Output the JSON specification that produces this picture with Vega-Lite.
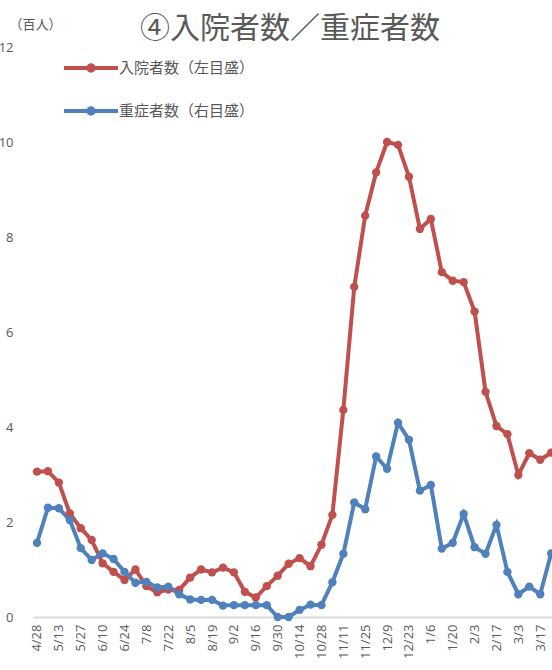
{
  "$schema": "https://vega.github.io/schema/vega-lite/v6.json",
  "autosize": {"type": "none"},
  "width": 519,
  "height": 570,
  "padding": {"left": 33, "top": 47, "right": 0, "bottom": 53},
  "background": "white",
  "config": {
    "view": {"stroke": null},
    "font": "Noto Sans CJK JP"
  },
  "title": {
    "text": "④入院者数／重症者数",
    "anchor": "start",
    "frame": "group",
    "dx": 107,
    "offset": -26,
    "fontSize": 30,
    "fontWeight": "normal",
    "color": "#595959",
    "font": "Noto Sans CJK JP"
  },
  "data": {
    "values": [
      {"d": "4/28", "入院者数（左目盛）": 3.06, "重症者数（右目盛）": 1.56},
      {"d": "5/6", "入院者数（左目盛）": 3.07, "重症者数（右目盛）": 2.3},
      {"d": "5/13", "入院者数（左目盛）": 2.83, "重症者数（右目盛）": 2.29},
      {"d": "5/20", "入院者数（左目盛）": 2.18, "重症者数（右目盛）": 2.04},
      {"d": "5/27", "入院者数（左目盛）": 1.87, "重症者数（右目盛）": 1.45},
      {"d": "6/3", "入院者数（左目盛）": 1.62, "重症者数（右目盛）": 1.2},
      {"d": "6/10", "入院者数（左目盛）": 1.13, "重症者数（右目盛）": 1.34},
      {"d": "6/17", "入院者数（左目盛）": 0.95, "重症者数（右目盛）": 1.22},
      {"d": "6/24", "入院者数（左目盛）": 0.78, "重症者数（右目盛）": 0.95},
      {"d": "7/1", "入院者数（左目盛）": 1.0, "重症者数（右目盛）": 0.72},
      {"d": "7/8", "入院者数（左目盛）": 0.65, "重症者数（右目盛）": 0.74},
      {"d": "7/15", "入院者数（左目盛）": 0.52, "重症者数（右目盛）": 0.62},
      {"d": "7/22", "入院者数（左目盛）": 0.58, "重症者数（右目盛）": 0.64},
      {"d": "7/29", "入院者数（左目盛）": 0.57, "重症者数（右目盛）": 0.48},
      {"d": "8/5", "入院者数（左目盛）": 0.83, "重症者数（右目盛）": 0.37},
      {"d": "8/12", "入院者数（左目盛）": 1.0, "重症者数（右目盛）": 0.36},
      {"d": "8/19", "入院者数（左目盛）": 0.94, "重症者数（右目盛）": 0.36},
      {"d": "8/26", "入院者数（左目盛）": 1.04, "重症者数（右目盛）": 0.24},
      {"d": "9/2", "入院者数（左目盛）": 0.94, "重症者数（右目盛）": 0.25},
      {"d": "9/9", "入院者数（左目盛）": 0.53, "重症者数（右目盛）": 0.25},
      {"d": "9/16", "入院者数（左目盛）": 0.41, "重症者数（右目盛）": 0.25},
      {"d": "9/23", "入院者数（左目盛）": 0.65, "重症者数（右目盛）": 0.25},
      {"d": "9/30", "入院者数（左目盛）": 0.87, "重症者数（右目盛）": 0.0},
      {"d": "10/7", "入院者数（左目盛）": 1.12, "重症者数（右目盛）": 0.0},
      {"d": "10/14", "入院者数（左目盛）": 1.24, "重症者数（右目盛）": 0.15},
      {"d": "10/21", "入院者数（左目盛）": 1.07, "重症者数（右目盛）": 0.26},
      {"d": "10/28", "入院者数（左目盛）": 1.52, "重症者数（右目盛）": 0.25},
      {"d": "11/4", "入院者数（左目盛）": 2.15, "重症者数（右目盛）": 0.73},
      {"d": "11/11", "入院者数（左目盛）": 4.36, "重症者数（右目盛）": 1.33},
      {"d": "11/18", "入院者数（左目盛）": 6.95, "重症者数（右目盛）": 2.41},
      {"d": "11/25", "入院者数（左目盛）": 8.45, "重症者数（右目盛）": 2.27},
      {"d": "12/2", "入院者数（左目盛）": 9.36, "重症者数（右目盛）": 3.38},
      {"d": "12/9", "入院者数（左目盛）": 10.0, "重症者数（右目盛）": 3.12},
      {"d": "12/16", "入院者数（左目盛）": 9.94, "重症者数（右目盛）": 4.09},
      {"d": "12/23", "入院者数（左目盛）": 9.27, "重症者数（右目盛）": 3.73},
      {"d": "12/30", "入院者数（左目盛）": 8.17, "重症者数（右目盛）": 2.66},
      {"d": "1/6", "入院者数（左目盛）": 8.38, "重症者数（右目盛）": 2.78},
      {"d": "1/13", "入院者数（左目盛）": 7.26, "重症者数（右目盛）": 1.44},
      {"d": "1/20", "入院者数（左目盛）": 7.08, "重症者数（右目盛）": 1.56},
      {"d": "1/27", "入院者数（左目盛）": 7.05, "重症者数（右目盛）": 2.17},
      {"d": "2/3", "入院者数（左目盛）": 6.43, "重症者数（右目盛）": 1.47},
      {"d": "2/10", "入院者数（左目盛）": 4.74, "重症者数（右目盛）": 1.33},
      {"d": "2/17", "入院者数（左目盛）": 4.02, "重症者数（右目盛）": 1.94},
      {"d": "2/24", "入院者数（左目盛）": 3.85, "重症者数（右目盛）": 0.95},
      {"d": "3/3", "入院者数（左目盛）": 2.99, "重症者数（右目盛）": 0.48},
      {"d": "3/10", "入院者数（左目盛）": 3.45, "重症者数（右目盛）": 0.64},
      {"d": "3/17", "入院者数（左目盛）": 3.31, "重症者数（右目盛）": 0.48},
      {"d": "3/24", "入院者数（左目盛）": 3.46, "重症者数（右目盛）": 1.34}
    ]
  },
  "transform": [
    {"fold": ["入院者数（左目盛）", "重症者数（右目盛）"], "as": ["series", "value"]}
  ],
  "mark": {
    "type": "line",
    "strokeWidth": 4,
    "point": {"filled": true, "size": 70}
  },
  "encoding": {
    "x": {
      "field": "d",
      "type": "ordinal",
      "sort": null,
      "scale": {"type": "point", "padding": 0.22, "align": 0.83},
      "axis": {
        "title": null,
        "values": ["4/28", "5/13", "5/27", "6/10", "6/24", "7/8", "7/22", "8/5", "8/19", "9/2", "9/16", "9/30", "10/14", "10/28", "11/11", "11/25", "12/9", "12/23", "1/6", "1/20", "2/3", "2/17", "3/3", "3/17"],
        "labelAngle": 270,
        "labelFont": "Open Sans",
        "labelFontSize": 13,
        "labelColor": "#595959",
        "labelPadding": 7,
        "ticks": false,
        "domainColor": "#d9d9d9",
        "domainWidth": 2,
        "grid": false
      }
    },
    "y": {
      "field": "value",
      "type": "quantitative",
      "scale": {"domain": [0, 12], "nice": false},
      "axis": {
        "title": "（百人）",
        "titleAngle": 0,
        "titleAlign": "left",
        "titleBaseline": "middle",
        "titleX": -24,
        "titleY": -23,
        "titleFontSize": 13,
        "titleFontWeight": "normal",
        "titleColor": "#595959",
        "titleFont": "Noto Sans CJK JP",
        "values": [0, 2, 4, 6, 8, 10, 12],
        "labelFont": "Open Sans",
        "labelFontSize": 13,
        "labelColor": "#595959",
        "labelPadding": 20,
        "ticks": false,
        "domain": false,
        "grid": false
      }
    },
    "color": {
      "field": "series",
      "type": "nominal",
      "scale": {"domain": ["入院者数（左目盛）", "重症者数（右目盛）"], "range": ["#C0504D", "#4F81BD"]},
      "legend": {
        "title": null,
        "orient": "none",
        "legendX": 29,
        "legendY": -8,
        "padding": 0,
        "symbolType": "M-1,0L1,0M-0.1,0A0.1,0.1,0,1,1,0.1,0A0.1,0.1,0,1,1,-0.1,0Z",
        "symbolSize": 2916,
        "symbolStrokeWidth": 4,
        "labelFont": "Noto Sans CJK JP",
        "labelFontSize": 15,
        "labelColor": "#595959",
        "labelOffset": -1,
        "rowPadding": 3,
        "encode": {
          "symbols": {"update": {"fill": {"scale": "color", "field": "value"}}}
        }
      }
    }
  }
}
